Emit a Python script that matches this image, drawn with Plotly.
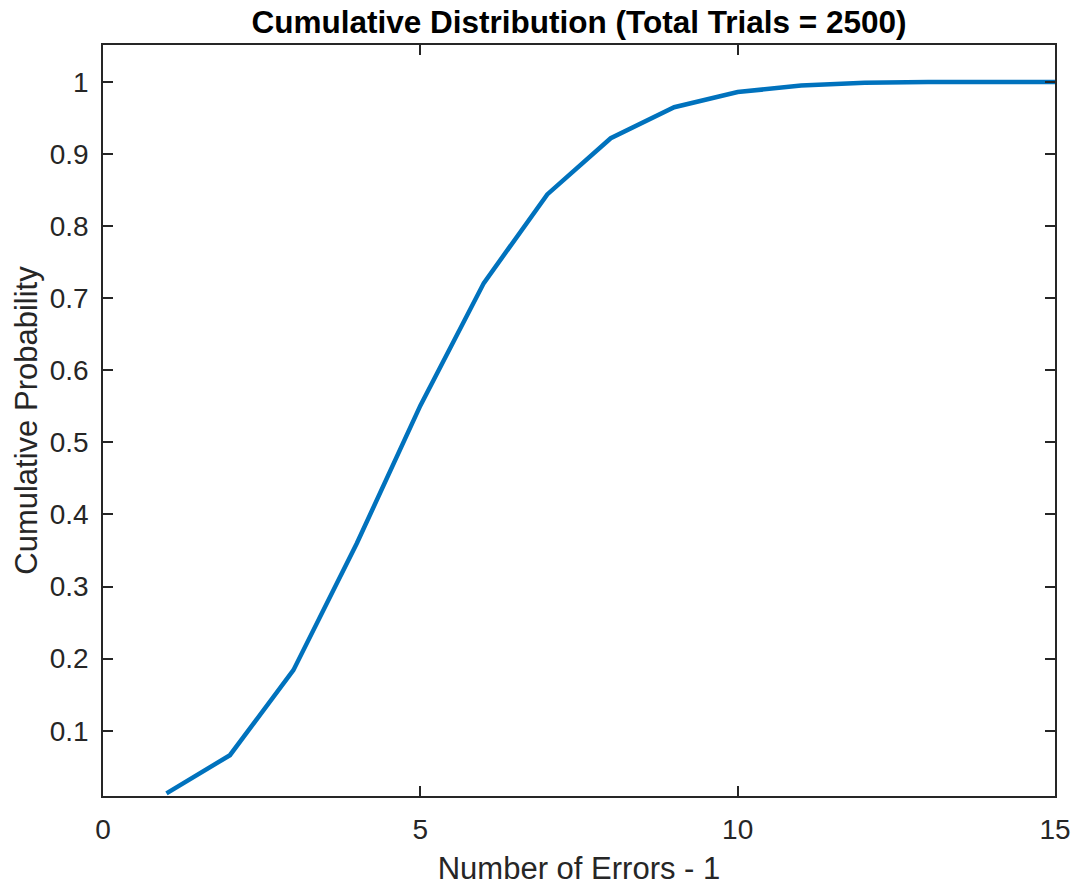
import plotly.graph_objects as go

errors = [1, 2, 3, 4, 5, 6, 7, 8, 9, 10, 11, 12, 13, 14, 15]
cum_prob = [0.013, 0.066, 0.184, 0.360, 0.551, 0.721, 0.844, 0.922, 0.965, 0.986, 0.995, 0.999, 1.0, 1.0, 1.0]

x_ticks = [0, 5, 10, 15]
y_ticks = [0.1, 0.2, 0.3, 0.4, 0.5, 0.6, 0.7, 0.8, 0.9, 1.0]
y_tick_labels = ["0.1", "0.2", "0.3", "0.4", "0.5", "0.6", "0.7", "0.8", "0.9", "1"]

axis_col = "#262626"
font_fam = "Liberation Sans, Arial, Helvetica, sans-serif"

fig = go.Figure()
fig.add_trace(go.Scatter(
    x=errors, y=cum_prob, mode="lines",
    line=dict(color="#0072BD", width=4.5),
    showlegend=False,
))

common = dict(
    showline=True, linecolor=axis_col, linewidth=1.5, mirror="ticks",
    ticks="inside", ticklen=10, tickwidth=1.5, tickcolor=axis_col,
    showgrid=False, zeroline=False, automargin=False,
    tickfont=dict(family=font_fam, size=28, color=axis_col),
)

fig.update_layout(
    width=1076, height=886,
    margin=dict(l=103, r=21, t=45, b=90),
    paper_bgcolor="white", plot_bgcolor="white",
    title=dict(text="<b>Cumulative Distribution (Total Trials = 2500)</b>",
               x=0.5, xref="paper", xanchor="center",
               y=1 - 22 / 886, yanchor="middle",
               font=dict(family=font_fam, size=31.5, color="black")),
    xaxis=dict(range=[0, 15], tickvals=x_ticks, ticktext=[str(v) for v in x_ticks],
               title=dict(text="Number of Errors - 1", standoff=16,
                          font=dict(family=font_fam, size=31, color=axis_col)),
               ticklabelstandoff=8, **common),
    yaxis=dict(range=[0.0094, 1.0513], tickvals=y_ticks, ticktext=y_tick_labels,
               title=dict(text="Cumulative Probability", standoff=3,
                          font=dict(family=font_fam, size=31, color=axis_col)),
               ticklabelstandoff=7, **common),
)

fig.write_html("out.html")
